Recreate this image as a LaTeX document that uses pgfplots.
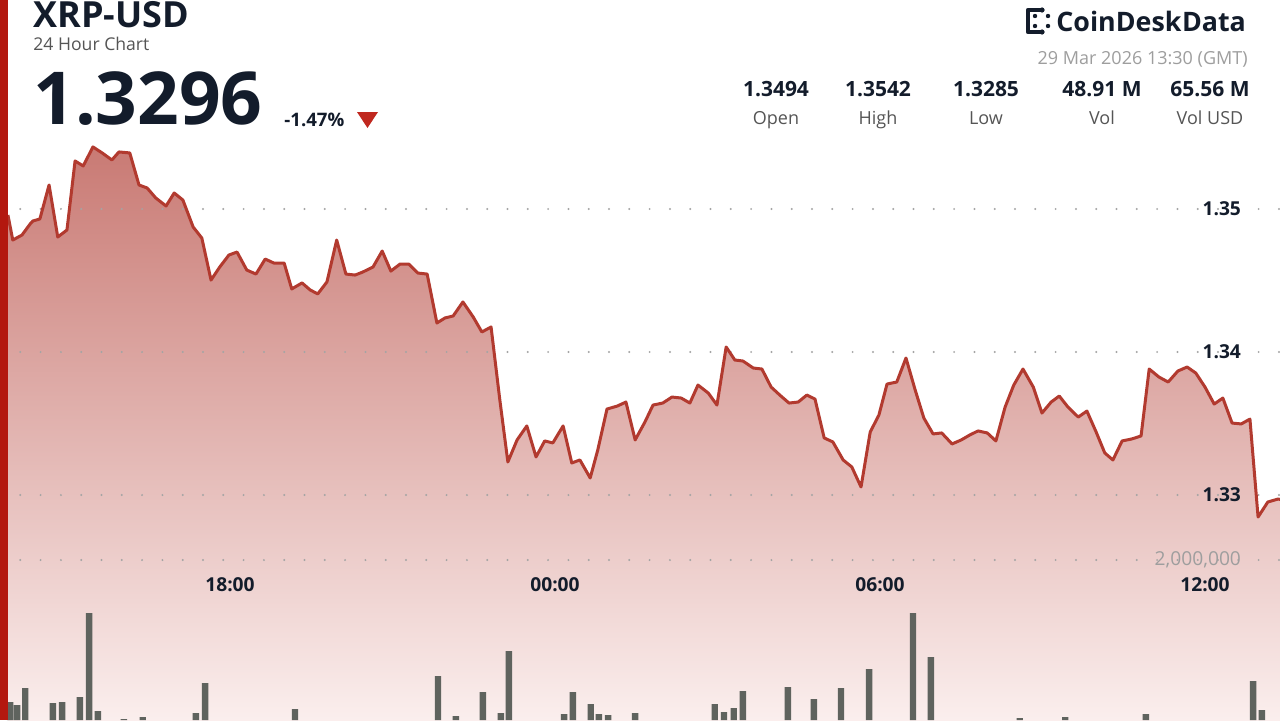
\documentclass[border=0pt]{standalone}
\usepackage{pgfplots}
\pgfplotsset{compat=1.18}
\usepackage{pgfplotstable}
\usepackage{fontspec}
\setmainfont{Open Sans}
\definecolor{linered}{HTML}{B23A2F}
\definecolor{fillTop}{HTML}{C97A74}
\definecolor{fillBot}{HTML}{FBEFEE}
\definecolor{barGray}{HTML}{5F635E}
\definecolor{gridGray}{HTML}{A4A4A4}
\definecolor{navy}{HTML}{131C2B}
\definecolor{labGray}{HTML}{555555}
\definecolor{lightGray}{HTML}{9E9E9E}
\definecolor{leftRed}{HTML}{B3180F}
\definecolor{triRed}{HTML}{C0281F}
\newcommand\fs[1]{\fontsize{#1}{#1}\selectfont}

\pgfplotstableread{
t p
-10.10 1.34958
-10.01 1.34783
-9.84 1.34818
-9.69 1.34895
-9.64 1.34916
-9.51 1.34930
-9.34 1.35168
-9.18 1.34804
-9.01 1.34853
-8.86 1.35336
-8.71 1.35301
-8.53 1.35434
-8.36 1.35392
-8.18 1.35343
-8.05 1.35399
-7.85 1.35392
-7.68 1.35168
-7.53 1.35147
-7.37 1.35077
-7.18 1.35021
-7.03 1.35112
-6.87 1.35063
-6.68 1.34874
-6.52 1.34797
-6.35 1.34503
-6.19 1.34594
-6.02 1.34678
-5.87 1.34699
-5.69 1.34573
-5.52 1.34545
-5.35 1.34650
-5.19 1.34622
-5.00 1.34622
-4.86 1.34441
-4.67 1.34483
-4.52 1.34434
-4.38 1.34406
-4.21 1.34490
-4.03 1.34783
-3.86 1.34545
-3.69 1.34538
-3.55 1.34559
-3.36 1.34594
-3.19 1.34706
-3.03 1.34566
-2.86 1.34615
-2.70 1.34615
-2.53 1.34552
-2.36 1.34545
-2.18 1.34203
-2.03 1.34238
-1.88 1.34252
-1.70 1.34350
-1.51 1.34245
-1.35 1.34140
-1.18 1.34175
-1.02 1.33670
-0.87 1.33231
-0.70 1.33385
-0.52 1.33483
-0.35 1.33266
-0.19 1.33378
-0.04 1.33364
0.15 1.33483
0.31 1.33224
0.46 1.33245
0.65 1.33119
0.79 1.33315
0.96 1.33601
1.15 1.33622
1.31 1.33650
1.48 1.33385
1.66 1.33510
1.81 1.33629
1.99 1.33643
2.16 1.33685
2.33 1.33678
2.49 1.33643
2.64 1.33769
2.83 1.33713
2.99 1.33629
3.16 1.34035
3.32 1.33944
3.47 1.33937
3.66 1.33888
3.82 1.33881
3.99 1.33755
4.15 1.33699
4.32 1.33643
4.49 1.33650
4.65 1.33699
4.80 1.33671
4.97 1.33399
5.13 1.33371
5.32 1.33245
5.48 1.33196
5.65 1.33056
5.82 1.33441
5.98 1.33559
6.13 1.33776
6.31 1.33790
6.48 1.33958
6.65 1.33734
6.81 1.33538
6.98 1.33427
7.14 1.33434
7.33 1.33357
7.50 1.33385
7.66 1.33420
7.81 1.33448
7.98 1.33434
8.14 1.33378
8.31 1.33615
8.47 1.33769
8.64 1.33881
8.83 1.33755
8.99 1.33573
9.16 1.33650
9.31 1.33692
9.47 1.33615
9.66 1.33545
9.82 1.33587
9.99 1.33441
10.15 1.33294
10.30 1.33245
10.47 1.33378
10.65 1.33392
10.82 1.33413
10.97 1.33881
11.15 1.33825
11.32 1.33790
11.50 1.33867
11.67 1.33895
11.83 1.33853
12.00 1.33755
12.17 1.33636
12.33 1.33678
12.50 1.33503
12.67 1.33497
12.83 1.33531
12.98 1.32846
13.16 1.32951
13.35 1.32972
13.51 1.32960
}\pricedata

\pgfplotstableread{
t v
-10.06 225000
-9.93 187500
-9.78 400000
-9.27 212500
-9.10 225000
-8.77 287500
-8.60 1337500
-8.44 112500
-7.96 12500
-7.61 37500
-6.63 87500
-6.46 462500
-4.80 137500
-2.16 550000
-1.83 50000
-1.33 350000
-1.00 87500
-0.85 862500
0.17 75000
0.33 350000
0.66 200000
0.81 75000
0.98 62500
1.48 87500
2.95 200000
3.12 100000
3.30 150000
3.47 362500
4.30 412500
4.78 262500
5.28 400000
5.80 637500
6.61 1337500
6.94 787500
8.58 25000
9.42 37500
10.91 75000
12.89 487500
13.05 125000
}\voldata

\begin{document}
\begin{tikzpicture}
\useasboundingbox (0,0) rectangle (640pt,360pt);
\fill[white] (0,0) rectangle (640pt,360pt);
\pgfplotsset{
  base/.style={at={(0,0)}, anchor=south west, scale only axis,
    width=640pt, height=360pt, xmin=-10.246, xmax=13.385,
    axis line style={draw=none}, major tick length=0pt,
    grid style={gridGray, line width=1.1pt, line cap=round, dash pattern=on 0pt off 10.15pt}},
}
% area fill
\begin{axis}[base, ymin=1.314266, ymax=1.364615, xtick=\empty, ytick=\empty]
\addplot[draw=none, top color=fillTop, bottom color=fillBot] table[x=t,y=p] {\pricedata}
  -- (axis cs:13.51,1.3140) -- (axis cs:-10.10,1.3140) -- cycle;
\end{axis}
% volume
\begin{axis}[base, ymin=0, ymax=9000000, xtick=\empty,
  ytick={2000000}, yticklabels={2{,}000{,}000}, scaled y ticks=false,
  ymajorgrids, yticklabel pos=right,
  yticklabel style={anchor=east, xshift=-16pt, font=\fs{9.6}, text=lightGray}]
\addplot[ybar, bar width=3.2pt, bar shift=0pt, fill=barGray, draw=none] table[x=t,y=v] {\voldata};
\end{axis}
% price line
\begin{axis}[base, ymin=1.314266, ymax=1.364615,
  xtick={-6,0,6,12}, xticklabels={18:00,00:00,06:00,12:00},
  xticklabel style={anchor=center, yshift=67.5pt, font=\bfseries\fs{9.6}, text=navy},
  ytick={1.33,1.34,1.35}, yticklabels={1.33,1.34,1.35},
  ymajorgrids, yticklabel pos=right,
  yticklabel style={anchor=east, xshift=-16pt, font=\bfseries\fs{9.6}, text=navy}]
\addplot[linered, line width=1.5pt, line join=round] table[x=t,y=p] {\pricedata};
\end{axis}
\fill[leftRed] (0,0) rectangle (4pt,360pt);
% header
\begin{scope}[x=0.5pt, y=-0.5pt, shift={(0pt,360pt)}]
\node[anchor=base west, inner sep=0, font=\bfseries\fs{18}, text=navy] at (33,27) {XRP-USD};
\node[anchor=base west, inner sep=0, font=\fs{8.8}, text=labGray] at (33,50) {24 Hour Chart};
\node[anchor=base west, inner sep=0, font=\bfseries\fs{36.5}, text=navy] at (33,124) {1.3296};
\node[anchor=base west, inner sep=0, font=\bfseries\fs{9.3}, text=navy] at (284,126) {-1.47\%};
\fill[triRed] (357,112) -- (378,112) -- (367.5,128) -- cycle;
% logo
\draw[navy, line width=2.2pt, line cap=round, line join=round] (1042,10) -- (1028,10) -- (1028,32) -- (1042,32);
\fill[navy] (1035,16) circle (2.2) (1035,26) circle (2.2) (1048,16) circle (2.2) (1048,26) circle (2.2) (1042,10) circle (2.6) (1042,32) circle (2.6);
\node[anchor=base west, inner sep=0, font=\bfseries\fs{13.4}, text=navy] at (1056,31) {CoinDesk\hspace{0.3pt}Data};
\node[anchor=base east, inner sep=0, font=\fs{9}, text=lightGray] at (1248,64) {29 Mar 2026 13:30 (GMT)};
\foreach \xx/\vv/\ll in {776/1.3494/Open, 878/1.3542/High, 986/1.3285/Low, 1102/48.91 M/Vol, 1210/65.56 M/Vol USD}{
  \node[anchor=base, inner sep=0, font=\bfseries\fs{10.5}, text=navy] at (\xx,96) {\vv};
  \node[anchor=base, inner sep=0, font=\fs{9}, text=labGray] at (\xx,124) {\ll};
}
\end{scope}
\end{tikzpicture}
\end{document}
